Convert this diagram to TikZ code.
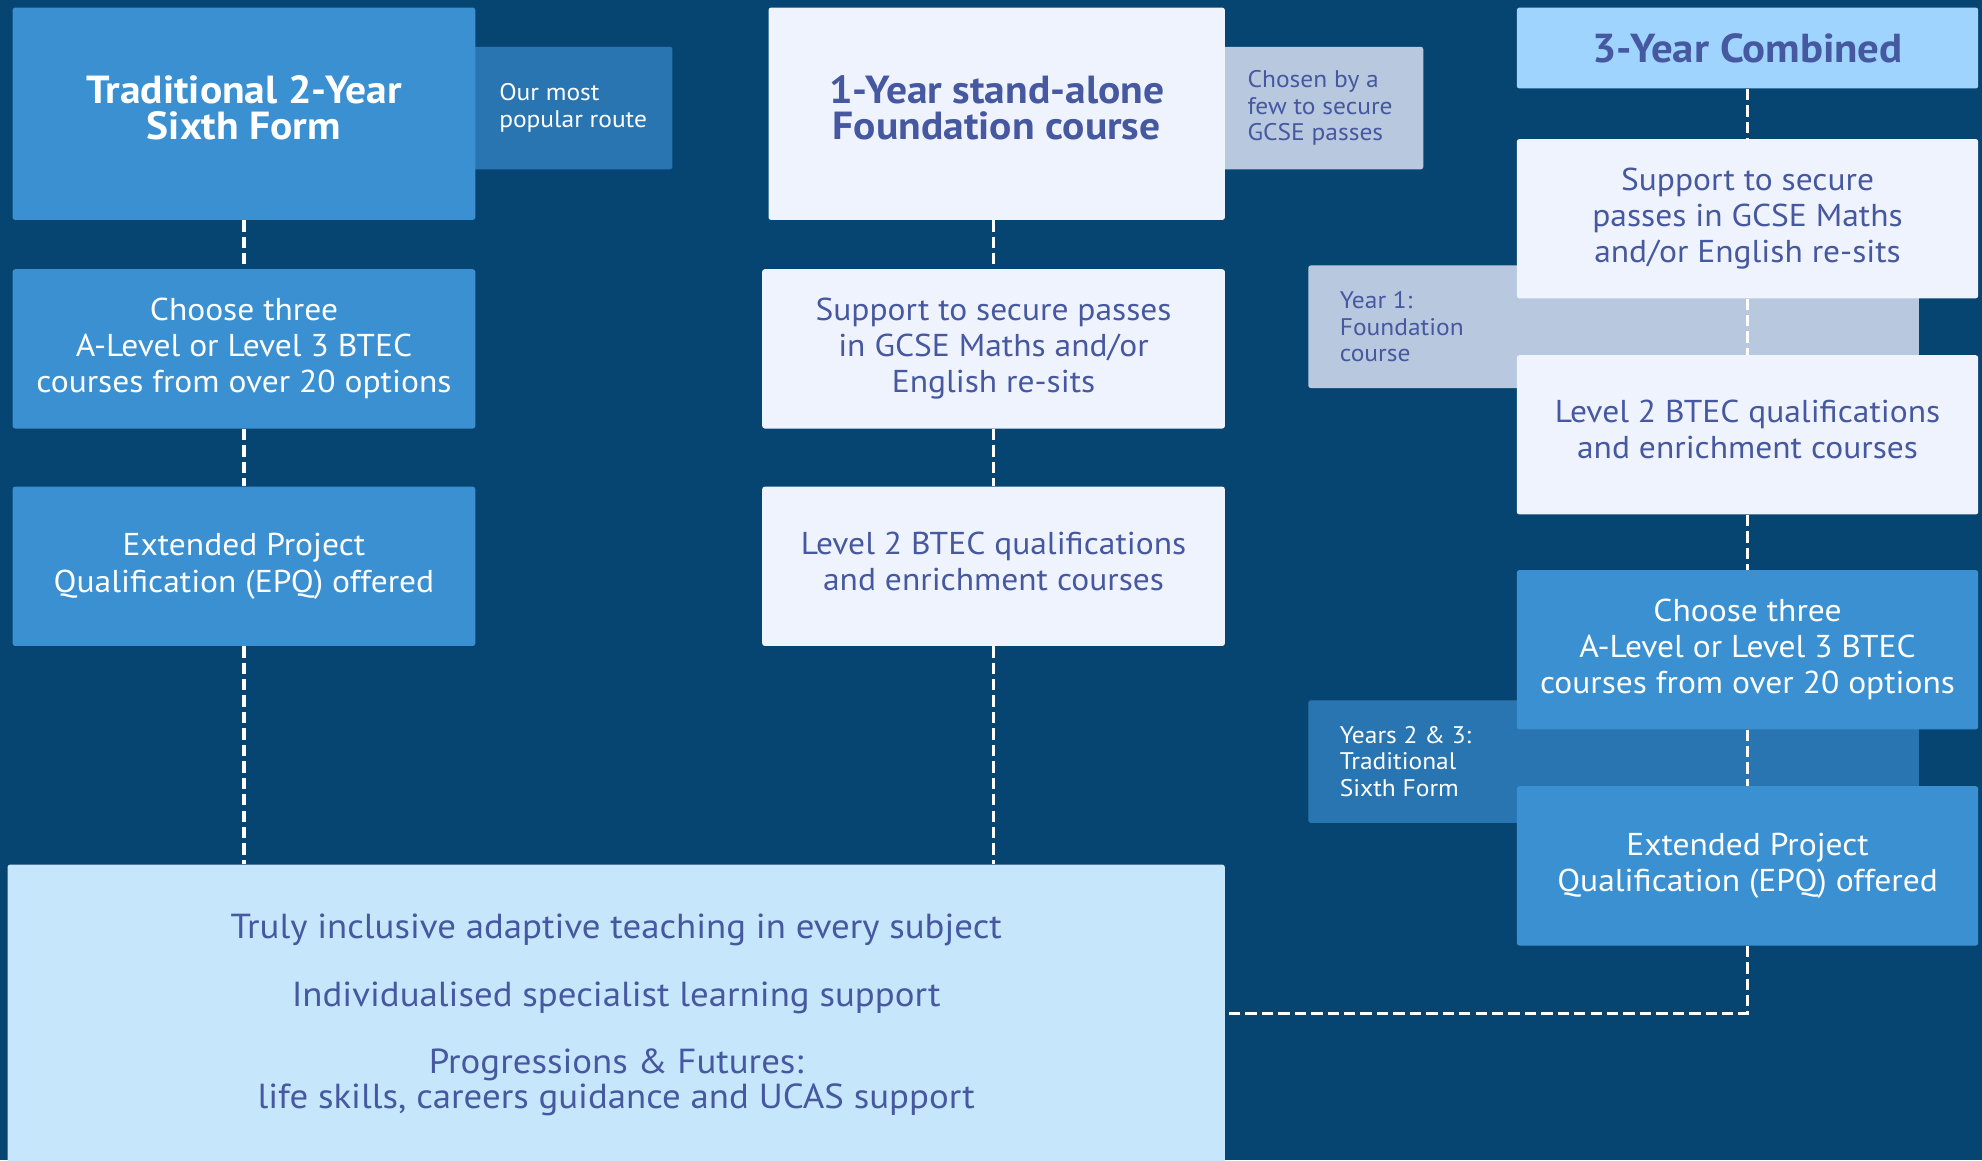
\documentclass[tikz,border=0pt]{standalone}
\usepackage{fontspec}
\setmainfont{PT Sans}[FakeStretch=1.06]
\definecolor{bg}{RGB}{6,69,114}
\definecolor{midblue}{RGB}{58,144,209}
\definecolor{darklbl}{RGB}{40,117,178}
\definecolor{lightbox}{RGB}{239,243,254}
\definecolor{greylbl}{RGB}{184,200,222}
\definecolor{cyanbox}{RGB}{158,212,253}
\definecolor{botbox}{RGB}{198,230,252}
\definecolor{textblue}{RGB}{69,88,160}
\tikzset{
  box/.style={rectangle, rounded corners=2pt, inner sep=0pt, align=center, minimum width=366, minimum height=126, font=\fontsize{25}{28.5}\selectfont},
  midbox/.style={box, fill=midblue, text=white},
  litebox/.style={box, fill=lightbox, text=textblue},
  titlefont/.style={font=\bfseries\fontsize{31}{29}\selectfont},
  lblbox/.style={rectangle, rounded corners=2pt, inner sep=0pt, minimum height=97},
  lbltext/.style={anchor=west, inner sep=0pt, align=left, font=\fontsize{19}{21}\selectfont},
  dashline/.style={draw=white, line width=2.5pt, dash pattern=on 9pt off 4pt}
}
\begin{document}
\begin{tikzpicture}[x=1pt,y=-1pt]
\fill[bg] (0,0) rectangle (1568,918);
\useasboundingbox (0,0) rectangle (1568,918);

% side labels (behind)
\node[lblbox, fill=darklbl, minimum width=160] (l1) at (452,85.5) {};
\node[lbltext, text=white] (l1t) at ([xshift=23pt]l1.west) {Our most\\popular route};
\node[lblbox, fill=greylbl, minimum width=161] (l2) at (1045.5,85.5) {};
\node[lbltext, text=textblue] (l2t) at ([xshift=22pt]l2.west) {Chosen by a\\few to secure\\GCSE passes};
\node[lblbox, fill=greylbl, minimum width=483] (l3a) at (1276.5,258.5) {};
\node[lbltext, text=textblue] (l3at) at ([xshift=25pt]l3a.west) {Year 1:\\Foundation\\course};
\node[lblbox, fill=darklbl, minimum width=483] (l3b) at (1276.5,602.5) {};
\node[lbltext, text=white] (l3bt) at ([xshift=25pt]l3b.west) {Years 2 \& 3:\\Traditional\\Sixth Form};

% column 1
\node[midbox, titlefont, minimum height=168] (t1) at (193,90) {Traditional 2-Year\\Sixth Form\\[-19pt]\mbox{}};
\node[midbox] (c1) at (193,276) {Choose three\\A-Level or Level 3 BTEC\\courses from over 20 options};
\node[midbox] (e1) at (193,448) {Extended Project\\Qualification (EPQ) offered};

% column 2
\node[litebox, titlefont, minimum width=361, minimum height=168] (t2) at (788.5,90) {1-Year stand-alone\\Foundation course\\[-19pt]\mbox{}};
\node[litebox] (s2) at (786,276) {Support to secure passes\\in GCSE Maths and/or\\English re-sits};
\node[litebox] (b2) at (786,448) {Level 2 BTEC qualifications\\and enrichment courses\\[-20pt]\mbox{}};

% column 3
\node[box, fill=cyanbox, text=textblue, font=\bfseries\fontsize{32}{33}\selectfont, minimum width=365, minimum height=64] (h3) at (1382.5,38) {3-Year Combined};
\node[litebox, minimum width=365] (s3) at (1382.5,173) {Support to secure\\passes in GCSE Maths\\and/or English re-sits};
\node[litebox, minimum width=365] (b3) at (1382.5,344) {Level 2 BTEC qualifications\\and enrichment courses\\[-20pt]\mbox{}};
\node[midbox, minimum width=365] (c3) at (1382.5,514) {Choose three\\A-Level or Level 3 BTEC\\courses from over 20 options};
\node[midbox, minimum width=365] (e3) at (1382.5,685) {Extended Project\\Qualification (EPQ) offered};

% bottom
\node[box, fill=botbox, text=textblue, minimum width=963, minimum height=236, font=\fontsize{27.5}{28}\selectfont] (bot) at (487.5,802)
  {Truly inclusive adaptive teaching in every subject\\[26pt]Individualised specialist learning support\\[25pt]Progressions \& Futures:\\life skills, careers guidance and UCAS support\\[-24pt]\mbox{}};

% connectors
\draw[dashline] (t1.south) -- (c1.north);
\draw[dashline] (c1.south) -- (e1.north);
\draw[dashline] (e1.south) -- (e1.south |- bot.north);
\draw[dashline] (s2.north |- t2.south) -- (s2.north);
\draw[dashline] (s2.south) -- (b2.north);
\draw[dashline] (b2.south) -- (b2.south |- bot.north);
\draw[dashline] (h3.south) -- (s3.north);
\draw[dashline] (s3.south) -- (b3.north);
\draw[dashline] (b3.south) -- (c3.north);
\draw[dashline] (c3.south) -- (e3.north);
\draw[dashline] (e3.south) |- (bot.east);
\end{tikzpicture}
\end{document}
